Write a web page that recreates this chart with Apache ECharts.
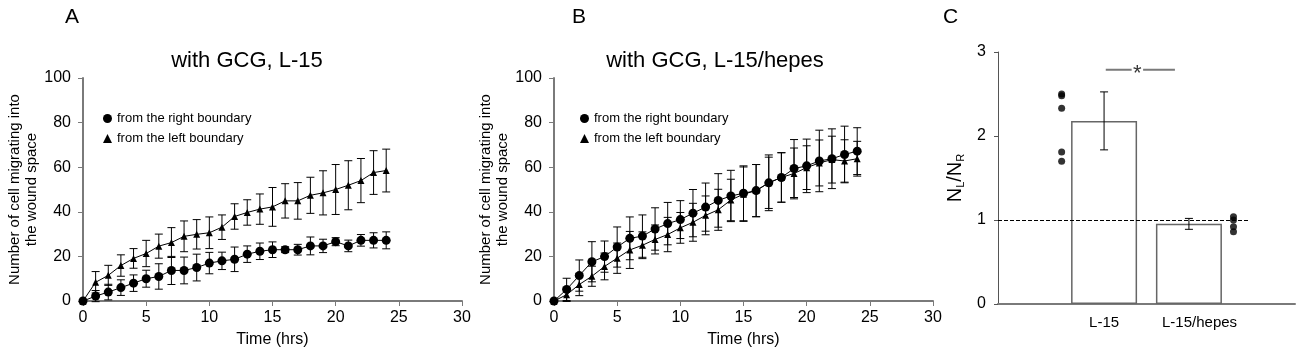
<!DOCTYPE html>
<html><head><meta charset="utf-8">
<script src="https://cdn.jsdelivr.net/npm/echarts@6/dist/echarts.min.js"></script>
<style>html,body{margin:0;padding:0;background:#fff}#c{width:1300px;height:353px}</style>
</head><body><div id="c"></div>
<script>
// ---- data ----
const hours = [0,1,2,3,4,5,6,7,8,9,10,11,12,13,14,15,16,17,18,19,20,21,22,23,24];
// Panel A: with GCG, L-15
const aRight    = [0,2.2,4,6,8,10,11,13.7,13.7,15,17,18,18.7,21,22.3,23,23,23,24.7,24.7,26.6,24.7,27.2,27.2,27.2];
const aRightErr = [0,2.5,3.5,3.5,3.7,3.8,5.7,6.3,6,6,4.8,3.9,5.5,3.7,3.7,3.5,1.3,2.4,4,3,1.8,2.6,2.6,3.4,3.8];
const aLeft     = [0,8.4,11.5,15.9,19.1,21.3,24.6,26.2,29,29.9,30.6,33.1,37.9,39.7,41.2,42.2,44.9,44.9,47.4,48.5,50,51.9,54,57.6,58.5];
const aLeftErr  = [0,4.8,4.5,4.8,4.4,5.9,5.4,6.7,6.9,6.6,7.1,5.5,5.7,5.7,6.8,8.7,7.7,8.2,8.1,9.9,11.2,11,9.9,9.8,9.6];
// Panel B: with GCG, L-15/hepes
const bRight    = [0,5.2,11.4,17.6,19.9,24.2,28.1,29.1,32.3,34.7,36.5,39.4,42.1,45.1,47.1,48.3,49.5,53,55.4,59.4,60.6,62.8,63.8,65.7,67.2];
const bRightErr = [0,5,7,9,7,9,9.6,9.5,9.5,9.5,8.5,10.6,10.8,12,11.5,12.3,11.7,12.5,11.1,13,12,13.8,13.4,12.7,10.5];
const bLeft     = [0,2.8,7.4,11.1,15.5,19.2,22.9,25,27.6,29.8,32.8,35.3,38.4,40.9,45.3,47.9,49.5,53,55.4,57.2,59.8,61.9,63.4,62.8,63.8];
const bLeftErr  = [0,3,5,4.5,6,6.8,8.3,6,6.5,7.7,6.9,8.5,8.7,9.2,9.3,12.2,11.7,11.5,11.1,11.4,9.8,10.3,10.5,9.5,7.8];
// Panel C: N_L/N_R
const cCategories = ['L-15','L-15/hepes'];
const cMeans = [2.18, 0.954];
const cErr = [0.345, 0.065];
const cDotsL15 = [2.50, 2.48, 2.33, 1.81, 1.70];
const cDotsHepes = [1.04, 1.00, 0.92, 0.86];
const cRef = 1;
const cSig = 2.79;
// slot positions on panel C's x scale
const cBarPos = [2.5, 4.5];
const cLabelPos = [2.5, 4.75];
const cDotPos = [1.5, 5.55];

const FONT = '"Liberation Sans", Arial, Helvetica, sans-serif';
const nameR = 'from the right boundary';
const nameL = 'from the left boundary';

function pairs(xs, ys){ return xs.map((x,i)=>[x, ys[i]]); }
function errData(xs, ys, es){ return xs.map((x,i)=>[x, ys[i]-es[i], ys[i]+es[i]]).filter((d,i)=>es[i]>0); }
function errRender(cap){
  return function(params, api){
    const x = api.value(0), lo = api.value(1), hi = api.value(2);
    const t = api.coord([x, hi]), b = api.coord([x, lo]);
    const st = {stroke:'#000', lineWidth:1};
    return {type:'group', children:[
      {type:'line', shape:{x1:t[0],y1:t[1],x2:b[0],y2:b[1]}, style:st},
      {type:'line', shape:{x1:t[0]-cap,y1:t[1],x2:t[0]+cap,y2:t[1]}, style:st},
      {type:'line', shape:{x1:b[0]-cap,y1:b[1],x2:b[0]+cap,y2:b[1]}, style:st}
    ]};
  };
}

const axisStyleXY = (gi) => ({
  x: {type:'value', gridIndex:gi, min:0, max:30, interval:5,
      name:'Time (hrs)', nameLocation:'middle', nameGap:31,
      nameTextStyle:{fontFamily:FONT, fontSize:16, color:'#000'},
      axisLine:{lineStyle:{color:'#7a7a7a', width:2}},
      axisTick:{show:true, length:5, lineStyle:{color:'#7a7a7a', width:1}},
      axisLabel:{fontFamily:FONT, fontSize:16, color:'#000', margin:9},
      splitLine:{show:false}},
  y: {type:'value', gridIndex:gi, min:0, max:100, interval:20,
      name:'Number of cell migrating into\nthe wound space', nameLocation:'middle', nameGap:41,
      nameTextStyle:{fontFamily:FONT, fontSize:15, color:'#000', lineHeight:17},
      axisLine:{show:true, lineStyle:{color:'#7a7a7a', width:2}},
      axisTick:{show:true, length:5, lineStyle:{color:'#7a7a7a', width:1}},
      axisLabel:{fontFamily:FONT, fontSize:16, color:'#000', margin:12},
      splitLine:{show:false}}
});
const axA = axisStyleXY(0), axB = axisStyleXY(1);

function lineSeries(name, xi, data, sym, size){
  return {type:'line', name, xAxisIndex:xi, yAxisIndex:xi, data, symbol:sym, symbolSize:size,
    showSymbol:true, lineStyle:{color:'#000', width:1}, itemStyle:{color:'#000'}, z:3, animation:false};
}
function errSeries(xi, data){
  return {type:'custom', xAxisIndex:xi, yAxisIndex:xi, data, renderItem:errRender(4), z:2, animation:false, silent:true};
}

const option = {
  animation:false,
  backgroundColor:'#fff',
  title:[
    {text:'A', left:60, top:2, textStyle:{fontFamily:FONT, fontSize:21, fontWeight:'normal', color:'#000'}},
    {text:'with GCG, L-15', left:242, top:45, textAlign:'center', textStyle:{fontFamily:FONT, fontSize:22, fontWeight:'normal', color:'#000'}},
    {text:'B', left:567, top:2, textStyle:{fontFamily:FONT, fontSize:21, fontWeight:'normal', color:'#000'}},
    {text:'with GCG, L-15/hepes', left:710, top:45, textAlign:'center', textStyle:{fontFamily:FONT, fontSize:22, fontWeight:'normal', color:'#000'}},
    {text:'C', left:938, top:2, textStyle:{fontFamily:FONT, fontSize:21, fontWeight:'normal', color:'#000'}}
  ],
  legend:[
    {left:98, top:107, orient:'vertical', itemGap:7, itemWidth:9, itemHeight:9,
     textStyle:{fontFamily:FONT, fontSize:13, color:'#000'},
     data:[{name:nameR, icon:'circle'},{name:nameL, icon:'triangle'}], selectedMode:false},
    {left:575, top:107, orient:'vertical', itemGap:7, itemWidth:9, itemHeight:9,
     textStyle:{fontFamily:FONT, fontSize:13, color:'#000'},
     data:[{name:nameR, icon:'circle'},{name:nameL, icon:'triangle'}], selectedMode:false}
  ],
  grid:[
    {left:83, top:78, width:379, height:227},
    {left:554, top:78, width:379, height:226},
    {left:998, top:52, width:297, height:252}
  ],
  xAxis:[axA.x, axB.x,
    {type:'value', gridIndex:2, min:0, max:7, interval:0.25,
     axisLine:{lineStyle:{color:'#7a7a7a', width:2}}, axisTick:{show:false}, splitLine:{show:false},
     axisLabel:{fontFamily:FONT, fontSize:15, color:'#000', margin:11, showMinLabel:true, showMaxLabel:true,
       formatter:(v)=>{ for(let i=0;i<cLabelPos.length;i++){ if(Math.abs(v-cLabelPos[i])<1e-6) return cCategories[i]; } return ''; }}}
  ],
  yAxis:[axA.y, axB.y,
    {type:'value', gridIndex:2, min:0, max:3, interval:1,
     name:'{n|N}{s|L}{n|/N}{s|R}', nameLocation:'middle', nameGap:32,
     nameTextStyle:{rich:{n:{fontFamily:FONT, fontSize:20, color:'#000'}, s:{fontFamily:FONT, fontSize:11, color:'#000', verticalAlign:'bottom', padding:[10,0,0,0]}}},
     axisLine:{show:true, lineStyle:{color:'#555', width:1}},
     axisTick:{show:true, length:4, lineStyle:{color:'#555'}},
     axisLabel:{fontFamily:FONT, fontSize:16, color:'#000', margin:12},
     splitLine:{show:false}}
  ],
  series:[
    errSeries(0, errData(hours, aLeft, aLeftErr)),
    errSeries(0, errData(hours, aRight, aRightErr)),
    lineSeries(nameL, 0, pairs(hours, aLeft), 'triangle', 7),
    lineSeries(nameR, 0, pairs(hours, aRight), 'circle', 9),
    errSeries(1, errData(hours, bLeft, bLeftErr)),
    errSeries(1, errData(hours, bRight, bRightErr)),
    lineSeries(nameL, 1, pairs(hours, bLeft), 'triangle', 7),
    lineSeries(nameR, 1, pairs(hours, bRight), 'circle', 9),
    // panel C
    {type:'bar', xAxisIndex:2, yAxisIndex:2, data:pairs(cBarPos, cMeans), barWidth:66,
     itemStyle:{color:'#fff', borderColor:'#666', borderWidth:1.5}, z:2, animation:false,
     markLine:{silent:true, symbol:'none', label:{show:false},
       lineStyle:{color:'#000', type:[4,2], width:1},
       data:[[{coord:[0, cRef]},{coord:[5.9, cRef]}]]}},
    {type:'custom', xAxisIndex:2, yAxisIndex:2, renderItem:errRender(4), z:3, animation:false,
     data:cBarPos.map((x,i)=>[x, cMeans[i]-cErr[i], cMeans[i]+cErr[i]])},
    {type:'scatter', xAxisIndex:2, yAxisIndex:2, symbol:'circle', symbolSize:7, itemStyle:{color:'#000'}, z:4, animation:false,
     data:cDotsL15.map(v=>[cDotPos[0], v]).concat(cDotsHepes.map(v=>[cDotPos[1], v]))},
    {type:'line', xAxisIndex:2, yAxisIndex:2, symbol:'none', lineStyle:{color:'#7a7a7a', width:2}, animation:false,
     data:[[2.54,cSig],[3.15,cSig],[3.28,'-'],[3.42,cSig],[4.17,cSig]]},
    {type:'scatter', xAxisIndex:2, yAxisIndex:2, symbolSize:1, itemStyle:{color:'rgba(0,0,0,0)'}, animation:false,
     data:[[3.28,cSig]],
     label:{show:true, position:'inside', formatter:'*', offset:[0,4], fontFamily:FONT, fontSize:22, color:'#000'}}
  ]
};
const chart = echarts.init(document.getElementById('c'), null, {renderer:'canvas'});
chart.setOption(option);
</script>
</body></html>
